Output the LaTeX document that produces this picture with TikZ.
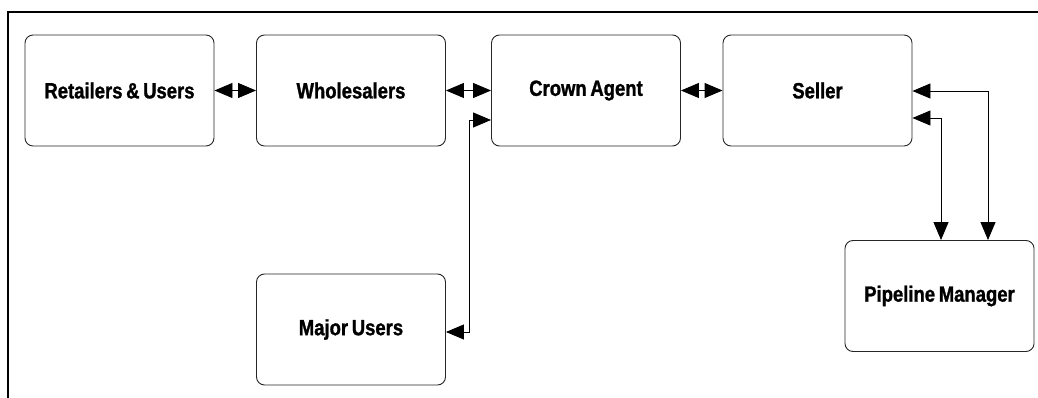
\documentclass[tikz,border=0pt]{standalone}
\usepackage{fontspec}
\newfontfamily\lblfont[FakeStretch=0.84,FakeBold=1.2]{Liberation Sans Bold}
\usetikzlibrary{arrows.meta}
\begin{document}
\begin{tikzpicture}[x=1pt,y=-1pt,
  box/.style={draw=black!85,line width=0.9pt,rounded corners=8pt,inner sep=0pt,
    minimum width=189pt,minimum height=111pt,font=\lblfont\fontsize{22}{24}\selectfont,text=black},
  tip/.tip={Triangle[length=18pt,width=15pt]},
  link/.style={draw=black,line width=0.9pt,tip-tip},
  frame/.style={draw=black,line width=1.6pt}]
\useasboundingbox (0,0) rectangle (1038,398);
\draw[frame] (8,400) -- (8,12) -- (1040,12);
\node[box] (ret) at (119.5,90.5) {Retailers\,\&\,Users};
\node[box] (who) at (351,90.5) {Wholesalers};
\node[box] (cro) at (586,90.5) {Crown\,Agent};
\node[box] (sel) at (817.5,90.5) {Seller};
\node[box] (maj) at (351,329.5) {Major\,Users};
\node[box] (pip) at (939.5,296) {Pipeline\,Manager};
\draw[link] (ret.east) -- (who.west);
\draw[link] (who.east) -- (cro.west);
\draw[link] (cro.east) -- (sel.west);
\coordinate (c1) at (469,120);
\coordinate (c2) at (469,332);
\draw[link] (cro.west |- c1) -- (c1) -- (c2) -- (maj.east |- c2);
\coordinate (s1) at (988,91);
\coordinate (s2) at (941,118);
\draw[link] (sel.east |- s1) -- (s1) -- (s1 |- pip.north);
\draw[link] (sel.east |- s2) -- (s2) -- (s2 |- pip.north);
\end{tikzpicture}
\end{document}
